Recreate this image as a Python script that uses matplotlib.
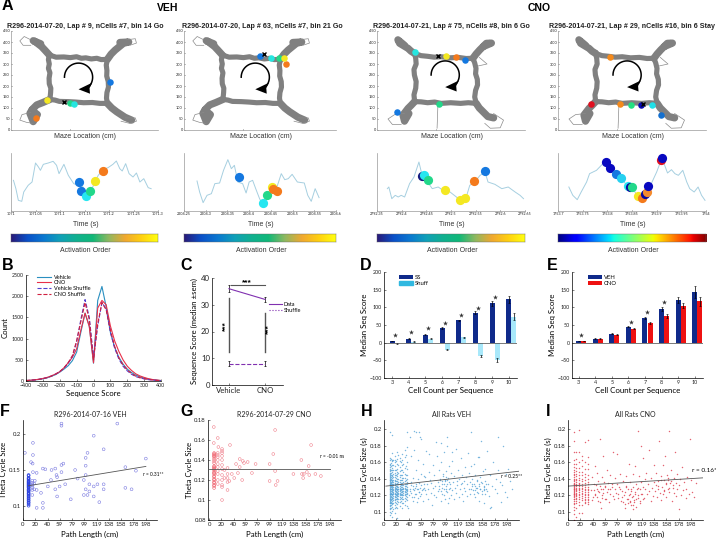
import matplotlib
matplotlib.use('Agg')
import matplotlib.pyplot as plt
import numpy as np
from matplotlib.colors import LinearSegmentedColormap
from matplotlib.lines import Line2D
from matplotlib.patches import Polygon

plt.rcParams['font.family'] = ['Lato', 'DejaVu Sans']
plt.rcParams['axes.linewidth'] = 0.5
W, H = 716, 541

# ---- panel A data ----
titles_a = ['R296-2014-07-20, Lap # 9, nCells #7, bin 14 Go', 'R296-2014-07-20, Lap # 63, nCells #7, bin 21 Go',
            'R296-2014-07-21, Lap # 75, nCells #8, bin 6 Go', 'R296-2014-07-21, Lap # 29, nCells #16, bin 6 Stay']

veh_ring = [(174, 341), (170, 320), (174, 300), (170, 280), (177, 260), (173, 235), (174, 210), (181, 190), (180, 170), (177, 139), (200, 136), (220, 130), (260, 129), (295, 127), (330, 124),
            (370, 125), (404, 121), (438, 121), (434, 145), (436, 170), (443, 195), (442, 220), (435, 245), (436, 270), (433, 295), (438, 321), (410, 320), (390, 326), (365, 323), (340, 328),
            (320, 326), (298, 333), (270, 329), (240, 332), (205, 331), (174, 341)]
veh_arms = [[(174, 341), (155, 362), (139, 379), (112, 400), (101, 406), (135, 392)],
            [(438, 321), (455, 345), (473, 363), (511, 394), (535, 400), (495, 398)],
            [(177, 139), (145, 125), (117, 114), (98, 95), (86, 76), (101, 38), (120, 70), (95, 90)],
            [(438, 121), (458, 100), (480, 83), (518, 58), (548, 45)]]
veh_thin = [[(90, 410), (60, 425), (40, 405), (55, 385), (90, 385)],
            [(525, 410), (565, 415), (570, 395), (540, 385)],
            [(90, 80), (50, 70), (40, 45), (70, 35), (100, 30)],
            [(520, 55), (565, 55), (570, 40), (540, 30), (500, 40)]]
cno_ring = [(171, 348), (176, 325), (178, 300), (168, 275), (170, 250), (178, 220), (176, 190), (168, 160), (171, 129), (200, 128), (230, 124), (262, 127), (292, 121), (335, 124), (380, 121), (415, 124), (451, 121),
            (444, 150), (448, 180), (457, 205), (456, 230), (448, 255), (450, 280), (444, 305), (436, 326), (405, 325), (370, 330), (330, 328), (292, 333), (260, 331), (230, 335), (200, 338), (171, 348)]
cno_arms = [[(171, 348), (155, 358), (141, 371), (103, 394), (95, 410), (125, 385)],
            [(436, 326), (450, 345), (467, 364), (497, 394), (520, 395), (485, 380)],
            [(171, 129), (155, 112), (141, 98), (118, 68), (125, 40), (145, 75)],
            [(451, 121), (465, 100), (482, 83), (504, 61), (530, 55)]]
cno_thin = [[(125, 75), (80, 70), (50, 50), (70, 25), (110, 25)],
            [(530, 75), (575, 45), (560, 10), (515, 8), (490, 30)],
            [(277, 121), (275, 60), (273, 8)],
            [(465, 330), (500, 300), (455, 290)]]

maze_dots = [[(112, 56, '#f47a1c'), (165, 135, '#f4e822'), (270, 121, '#22d88a'), (286, 120, '#26e6e0'), (450, 217, '#1478e0')],
             [(462, 300, '#f47a1c'), (345, 336, '#1478e0'), (396, 327, '#26e6e0'), (430, 326, '#22d88a'), (454, 327, '#f4e822')],
             [(171, 354, '#26e6e0'), (315, 335, '#f4e822'), (361, 332, '#f47a1c'), (398, 318, '#1478e0'), (282, 117, '#22d88a'), (92, 82, '#1478e0')],
             [(235, 330, '#f48a1c'), (148, 120, '#e01020'), (283, 118, '#f48a1c'), (330, 112, '#22e080'), (376, 112, '#0808b0'), (429, 114, '#20e0e8'), (467, 70, '#1470d0')]]
maze_cross = [(241, 129), (363, 345), (277, 338), (386, 118)]
arrow_centres = [(307, 240), (324, 240), (310, 250), (314, 250)]

tr_t = [[.005, .010, .015, .022, .026, .035, .043, .050, .056, .060, .066, .076, .086, .093, .098, .108, .117, .128, .138, .147,
         .154, .164, .171, .178, .188, .198, .208, .215, .222, .227, .234, .241, .249, .256, .263, .271, .280, .286],
        [.030, .036, .044, .053, .063, .071, .082, .091, .101, .109, .116, .124, .135, .143, .150, .158, .166, .174, .182, .190,
         .202, .214, .224, .232, .240, .249, .261, .277, .285, .293, .302, .311],
        [.021, .024, .030, .037, .043, .049, .056, .066, .075, .085, .089, .095, .105, .112, .124, .134, .148, .161, .171, .181,
         .188, .198, .209, .219, .225, .239, .253, .266, .280, .290, .297],
        [.022, .030, .039, .047, .058, .064, .078, .091, .102, .115, .129, .142, .152, .162, .176, .186, .200, .209, .215, .222,
         .230, .237, .244, .253, .261, .267, .276, .284, .291, .298]]
tr_v = [[92, 67, 32, 29, 57, 77, 87, 144, 132, 122, 140, 144, 149, 137, 112, 140, 107, 82, 77, 72, 52, 62, 87, 107, 124, 130, 140, 150,
         127, 120, 142, 112, 102, 114, 87, 97, 70, 67],
        [90, 57, 25, 47, 52, 82, 84, 122, 154, 127, 137, 87, 82, 54, 87, 92, 64, 37, 17, 37, 62, 72, 112, 94, 97, 110, 87, 84, 47, 29, 67, 40],
        [67, 72, 37, 47, 42, 47, 42, 82, 102, 147, 122, 92, 82, 67, 72, 62, 57, 42, 27, 42, 77, 87, 107, 117, 87, 80, 67, 72, 57, 47, 37],
        [72, 47, 34, 57, 87, 112, 122, 142, 127, 107, 97, 72, 67, 42, 37, 72, 117, 152, 142, 114, 124, 112, 107, 122, 87, 67, 57, 72, 47, 32]]
tr_dots = [[(.138, 87, '#1478e0'), (.142, 60, '#1478e0'), (.153, 45, '#26e6f0'), (.161, 60, '#22d88a'), (.171, 90, '#f4e822'), (.188, 120, '#f47a1c')],
           [(.127, 102, '#1478e0'), (.202, 72, '#f4e822'), (.182, 24, '#26e6f0'), (.190, 47, '#22d88a'), (.206, 67, '#f47a1c'), (.214, 59, '#f47a1c')],
           [(.092, 104, '#141a80'), (.095, 109, '#26e6f0'), (.103, 92, '#22d88a'), (.137, 64, '#f4e822'), (.169, 32, '#f4e822'), (.179, 39, '#f4e822'),
            (.196, 90, '#f47a1c'), (.218, 120, '#1478e0')],
           [(.097, 147, '#0808c0'), (.106, 129, '#0808c0'), (.118, 112, '#1478e0'), (.127, 100, '#26d0f0'), (.141, 75, '#26e6f0'), (.146, 72, '#0808a0'),
            (.151, 72, '#22d88a'), (.162, 45, '#f4e822'), (.171, 40, '#f47a1c'), (.177, 50, '#0808a0'), (.181, 57, '#f48a2c'), (.183, 75, '#0808c0'),
            (.209, 152, '#e01020'), (.211, 158, '#0808c0')]]
tr_labels = [['1071', '1071.05', '1071.1', '1071.15', '1071.2', '1071.25', '1071.3'],
             ['2204.25', '2204.3', '2204.35', '2204.4', '2204.45', '2204.5', '2204.55', '2204.6'],
             ['2792.35', '2792.4', '2792.45', '2792.5', '2792.55', '2792.6', '2792.65'],
             ['1753.7', '1753.75', '1753.8', '1753.85', '1753.9', '1753.95', '1754']]

# ---- panel B ----
b_x = [-400, -375, -350, -325, -300, -275, -250, -225, -200, -175, -150, -125, -100, -75, -50, -25, 0, 25, 50, 75, 100, 125, 150, 175, 200,
       225, 250, 275, 300, 325, 350, 375, 400]
b_veh = [10, 15, 25, 35, 50, 75, 110, 150, 210, 280, 360, 480, 680, 1150, 1600, 1300, 420, 1900, 2230, 1750, 1150, 800, 560, 400, 280, 200, 140, 100, 70, 45, 30, 18, 10]
b_cno = [12, 18, 28, 40, 60, 85, 120, 165, 220, 310, 430, 560, 760, 1200, 1600, 1280, 430, 1720, 1900, 1800, 1300, 950, 700, 500, 350, 250, 170, 120, 85, 55, 35, 22, 12]
b_vs = [10, 15, 25, 38, 55, 80, 115, 160, 220, 300, 420, 580, 920, 1450, 1920, 1500, 560, 1300, 1850, 1700, 1150, 780, 520, 350, 240, 160, 105, 75, 50, 32, 22, 14, 8]
b_cs = [10, 16, 26, 38, 55, 80, 115, 160, 220, 310, 430, 600, 950, 1400, 1850, 1450, 500, 1350, 1850, 1680, 1200, 820, 550, 380, 260, 180, 115, 80, 55, 35, 24, 15, 9]

# ---- panel C ----
c_data = [36, 32]
c_shuffle = [8, 8]
c_err = [1.2, 1.0]
c_serr = [0.8, 0.9]

# ---- panels D, E ----
cells = [3, 4, 5, 6, 7, 8, 9, 10]
d_ss = [5, 11, 23, 41, 63, 85, 111, 123]
d_ss_err = [1, 1, 1.5, 2, 2, 4, 7, 10]
d_sh = [-2, 3, 11, -20, 15, -37, -48, 73]
d_sh_err = [1, 1, 1.5, 1, 1.5, 3, 6, 10]
d_star_x = [3, 4, 5, 6, 7, 8, 9]
d_star_y = [21, 30, 41, 57, 79, 98, 129]
e_veh = [5, 11, 25, 45, 69, 95, 121, 142]
e_veh_err = [1, 1, 1, 2, 3, 6, 9, 17]
e_cno = [5, 11, 23, 40, 55, 75, 105, 117]
e_cno_err = [1, 1, 2, 2, 3, 5, 8, 13]
e_star_x = [3, 6, 7, 8]
e_star_y = [22, 58, 88, 114]

# ---- panel F ----
f_x = [3, 62, 62, 152, 114, 16, 16, 130, 104, 101, 198, 13, 15.5, 65, 62, 101, 165, 52, 32, 36, 84, 182, 46, 62, 16, 22, 54, 101, 55, 88, 98, 45, 19,
       68, 107, 120, 130, 114, 59, 40, 52, 101, 130, 165, 175, 107, 29, 98, 104, 114, 55, 77, 123, 32, 22, 32,
       15, 15, 15, 15, 15, 15, 15, 18, 18, 22]
f_y = [.174, .215, .212, .215, .198, .188, .171, .179, .174, .167, .166, .161, .159, .159, .157, .156, .154, .152, .152, .151, .150, .149, .15, .147,
       .147, .146, .143, .143, .14, .138, .136, .136, .135, .13, .13, .13, .13, .127, .127, .127, .123, .123, .123, .125, .123, .12, .118, .115, .115, .113,
       .113, .109, .105, .104, .097, .097, .115, .122, .125, .128, .13, .132, .135, .123, .131, .122]
f_col = [.100, .102, .104, .105, .107, .108, .110, .111, .113, .114, .116, .117, .118, .120, .121, .122, .123, .125, .126, .127, .128, .129,
         .130, .131, .132, .133, .134, .135, .137, .138, .139, .142, .143]

# ---- panel G ----
g_x = [7.5, 108, 14, 167, 34, 7.5, 15, 21, 105, 151, 50, 55, 63, 57, 76, 99, 163, 44, 50, 108, 138, 152, 155, 160, 164, 174, 183, 154, 70, 47, 37, 30, 41, 33,
       54, 99, 112, 109, 30, 21, 14, 21, 21, 14, 14, 14, 14, 14, 14, 14, 14, 14, 21, 21, 21, 21, 21, 21, 21, 21, 25, 25, 30, 30, 30]
g_y = [.173, .17, .162, .155, .155, .157, .153, .151, .146, .14, .141, .139, .138, .137, .136, .136, .134, .136, .133, .129, .126, .126, .126, .128, .125, .126,
       .124, .122, .127, .127, .126, .126, .122, .119, .12, .119, .119, .115, .11, .1, .116, .115, .113, .147, .145, .143, .14, .136, .133, .129, .126, .12,
       .149, .147, .144, .14, .135, .131, .125, .12, .13, .122, .132, .122, .118]
g_col = [.112, .114, .115, .117, .118, .120, .121, .123, .124, .126, .127, .128, .130, .131, .132, .133, .134, .137, .139, .141, .143, .144, .145, .146, .147]

# ---- panel H ----
h_col_x = [9, 11, 13, 15, 17, 19, 21, 23, 25, 27, 29, 31, 33, 35, 37]
h_cols = [
    [.096, .100, .103, .105, .107, .108, .110, .111, .112, .113, .114, .115, .116, .117, .118, .119, .120, .121, .122, .123, .124, .125, .126, .127, .128, .129, .130, .131, .132, .133,
     .134, .135, .136, .137, .138, .139, .140, .141, .142, .143, .144, .146, .147, .149, .150, .152, .154, .156, .158, .162, .165, .196],
    [.099, .104, .108, .110, .112, .114, .116, .118, .119, .121, .122, .123, .125, .127, .128, .130, .131, .133, .135, .136, .138, .140, .142, .145, .147, .151, .155, .159, .164],
    [.094, .101, .106, .109, .111, .113, .115, .117, .118, .120, .121, .122, .124, .125, .126, .128, .129, .130, .131, .133, .134, .136, .137, .139, .141, .143, .145, .148, .150, .153, .157, .161, .163, .171, .193],
    [.103, .110, .114, .117, .119, .121, .123, .124, .126, .128, .130, .132, .134, .136, .139, .142, .146, .150, .156, .163],
    [.098, .104, .108, .112, .114, .116, .118, .119, .121, .122, .123, .125, .126, .127, .129, .130, .132, .133, .135, .137, .139, .142, .144, .147, .150, .155, .160, .163, .168],
    [.106, .111, .115, .118, .120, .122, .124, .125, .127, .129, .131, .134, .137, .141, .145, .151, .161],
    [.093, .105, .109, .113, .115, .117, .119, .120, .122, .123, .124, .126, .127, .128, .130, .131, .133, .135, .137, .140, .143, .146, .148, .152, .158, .164, .172],
    [.112, .116, .119, .121, .123, .125, .127, .128, .130, .133, .136, .140, .147, .156, .169],
    [.107, .112, .116, .118, .120, .122, .123, .125, .126, .128, .129, .131, .133, .136, .139, .142, .145, .149, .154, .161, .165],
    [.113, .117, .120, .122, .124, .126, .128, .130, .132, .135, .139, .144, .151, .160],
    [.104, .110, .115, .118, .120, .122, .124, .125, .127, .128, .130, .132, .135, .138, .141, .145, .150, .156, .162, .170],
    [.111, .116, .120, .123, .125, .127, .129, .132, .136, .141, .148, .158],
    [.108, .113, .117, .120, .122, .124, .125, .127, .129, .131, .134, .137, .141, .146, .153, .166, .175],
    [.115, .119, .122, .124, .126, .128, .131, .134, .139, .145, .155, .169],
    [.107, .114, .118, .121, .123, .125, .126, .128, .130, .133, .136, .140, .145, .152, .160, .178, .196]]
h_x = [41, 43, 45, 47, 47, 49, 50, 51, 52, 53, 54, 55, 55, 56, 57, 58, 59, 60, 61, 62, 63, 65, 66, 67, 68, 69, 70, 71, 72, 74, 75, 76, 77, 78, 79, 80, 81, 82, 84, 85, 86, 87, 88, 89, 90, 91, 92, 93,
       94, 95, 96, 97, 98, 98, 99, 100, 100, 101, 102, 103, 104, 105, 106, 107, 108, 109, 110, 111, 112, 113, 114, 115, 116, 117, 118, 119, 120, 121, 122, 123, 124, 125, 126, 127,
       128, 129, 130, 131, 132, 133, 134, 135, 136, 137, 138, 139, 140, 141, 142, 143, 144, 145, 146, 147, 148, 149, 150, 151, 152, 153, 154, 155, 156, 157, 158, 159, 160, 161, 162, 163, 164,
       165, 166, 167, 168, 170, 172, 174, 176, 178, 180, 182, 184, 186, 188, 190, 192, 194, 196, 198, 200, 203, 206, 42, 48, 58, 64, 73, 83, 92, 101, 110, 125, 140, 152, 160, 171, 183, 52, 60, 44, 39]
h_y = [.125, .132, .118, .141, .127, .198, .122, .151, .131, .112, .128, .163, .140, .196, .124, .119, .146, .132, .126, .158, .113, .129, .142, .121, .173, .134, .116, .127, .148, .139, .123, .135, .108, .157, .129,
       .144, .120, .131, .118, .167, .136, .125, .150, .127, .139, .113, .183, .133, .122, .146, .128, .172, .137, .116, .131, .142, .125, .190, .139, .110, .128, .155, .134, .120, .147, .126, .161, .136, .115,
       .143, .129, .176, .123, .137, .132, .150, .118, .140, .127, .165, .133, .121, .145, .113, .137, .129, .154, .125, .142, .134, .119, .171, .128, .147, .136, .122, .197, .131, .140, .126, .158, .133, .118,
       .144, .129, .137, .124, .166, .131, .113, .142, .127, .186, .135, .122, .149, .130, .126, .152, .137, .128, .173, .125, .134, .119, .145, .106, .131, .160, .127, .140, .123, .190, .136, .112, .132, .180, .124, .146, .118,
       .152, .137, .127, .190, .175, .190, .143, .170, .184, .160, .180, .172, .135, .155, .166, .110, .105, .150, .197, .188, .167, .105]
h_x2 = [40, 42, 43, 44, 46, 46, 48, 49, 50, 51, 52, 53, 54, 56, 57, 58, 60, 62, 64, 66, 88, 90, 91, 93, 94, 95, 96, 97, 98, 99, 100, 101, 102, 103, 104, 105, 106,
        140, 142, 144, 146, 147, 149, 150, 151, 152, 154, 156, 158, 160, 161, 162, 164]
h_y2 = [.120, .128, .136, .123, .113, .131, .126, .118, .129, .134, .121, .127, .117, .124, .135, .129, .122, .128, .134, .126, .131, .140, .125, .137, .129, .143, .134, .120, .139, .128, .149, .133, .124, .141, .117, .136, .129,
        .128, .134, .122, .131, .126, .138, .129, .123, .133, .127, .136, .125, .131, .128, .122, .134]

# ---- panel I ----
i_col_x = [9, 13, 17, 22, 28, 32]
i_cols = [
    [.090, .097, .102, .106, .109, .111, .113, .115, .116, .118, .119, .120, .121, .122, .123, .124, .125, .126, .127, .128, .129, .130, .131, .132, .133, .134, .135, .137, .138, .140, .142, .144, .146,
     .148, .151, .154, .158, .162, .172, .185, .197],
    [.094, .104, .110, .113, .115, .117, .119, .120, .122, .123, .125, .126, .128, .129, .131, .132, .134, .136, .138, .140, .143, .146, .149, .153, .158, .164, .172],
    [.098, .108, .112, .115, .118, .120, .122, .124, .126, .127, .129, .131, .133, .135, .138, .141, .144, .148, .153, .160, .172, .199],
    [.098, .108, .114, .117, .119, .121, .123, .125, .127, .129, .131, .134, .137, .140, .144, .148, .155, .162, .167],
    [.110, .112, .114, .116, .118, .120, .122, .124, .126, .128, .130, .132, .135, .138, .142, .146, .152, .160, .184],
    [.109, .112, .114, .116, .118, .120, .122, .124, .126, .128, .130, .133, .136, .140, .145, .152, .158, .166, .187]]
i_x = [37, 38, 40, 41, 43, 44, 46, 47, 48, 49, 50, 51, 52, 53, 54, 55, 56, 57, 58, 59, 60, 62, 63, 65, 66, 67, 68, 70, 72, 73, 75, 76, 77, 78, 79, 80, 82, 83, 85, 86, 88, 90, 92, 93, 94, 95, 96, 97, 98, 99,
       100, 100, 101, 102, 103, 104, 105, 105, 106, 107, 108, 109, 110, 111, 112, 113, 114, 115, 116, 117, 118, 119, 120, 121, 122, 123, 124, 125, 127, 128, 130, 131, 133, 134, 135, 136, 138, 139,
       140, 141, 142, 143, 144, 145, 146, 148, 149, 150, 151, 152, 153, 154, 155, 156, 157, 158, 159, 160, 161, 162, 163, 164, 165, 167, 168, 170, 171, 172, 173, 174, 175, 176, 178, 179, 180, 182, 184, 185, 187, 189, 190, 192, 194, 196, 198, 200, 203, 206]
i_y = [.126, .142, .118, .133, .155, .122, .147, .128, .113, .137, .124, .188, .131, .105, .142, .120, .168, .128, .136, .116, .130, .150, .124, .135, .112, .144, .127, .133, .119, .172, .128, .141, .123, .170, .134,
       .117, .130, .146, .113, .125, .137, .120, .105, .131, .143, .116, .127, .110, .158, .122, .113, .136, .108, .125, .118, .146, .103, .130, .112, .122, .155, .116, .134, .127, .198, .120, .143, .113, .128, .180,
       .136, .122, .165, .130, .117, .140, .127, .147, .121, .134, .175, .125, .113, .141, .129, .119, .136, .157, .125, .147, .132, .118, .127, .137, .186, .123, .143, .114, .130, .156, .122, .138, .125, .167,
       .133, .118, .145, .128, .139, .198, .124, .135, .150, .113, .129, .141, .123, .172, .135, .119, .146, .128, .103, .132, .140, .120, .154, .126, .136, .117, .128, .142, .122, .188, .138, .124, .118, .135]
i_x2 = [38, 41, 43, 45, 47, 49, 51, 53, 55, 57, 59, 61, 64, 68, 71, 74, 81, 84, 87, 89, 91, 92, 94, 96, 98, 100, 102, 104, 105, 106, 108, 110, 112, 113, 115, 118, 120, 145, 150, 155, 158, 160, 162, 165, 168]
i_y2 = [.114, .126, .120, .132, .118, .125, .112, .128, .117, .123, .131, .115, .127, .121, .130, .116, .122, .127, .118, .112, .124, .109, .130, .116, .120, .112, .127, .108, .119, .114, .124, .106, .117, .129, .110, .122, .115,
        .131, .138, .126, .135, .141, .129, .137, .132]

path_ticks = [0, 20, 40, 59, 79, 99, 119, 138, 158, 178, 198]


def px_axes(left, top, right, bottom):
    return fig.add_axes([left / W, 1 - bottom / H, (right - left) / W, (bottom - top) / H])


def px_text(x, y, s, **kw):
    kw.setdefault('ha', 'center')
    kw.setdefault('va', 'center')
    fig.text(x / W, 1 - y / H, s, **kw)


def style(ax, size=4.2):
    ax.spines['top'].set_visible(False)
    ax.spines['right'].set_visible(False)
    ax.tick_params(direction='in', length=1.5, width=0.4, labelsize=size, pad=1.5, colors='#222222')
    ax.patch.set_alpha(0)


def draw_maze(ax, ring, arms, thin, dots, cross, centre):
    ax.plot(*zip(*ring), color='#808080', lw=3.7, solid_joinstyle='round')
    for arm in arms:
        ax.plot(*zip(*arm), color='#808080', lw=5.2, solid_capstyle='round', solid_joinstyle='round')
    for loop in thin:
        ax.plot(*zip(*loop), color='#8a8a8a', lw=0.5)
    for dx, dy, col in dots:
        ax.scatter(dx, dy, s=22, color=col, zorder=4, linewidths=0)
    ax.plot(*cross, marker='x', color='k', ms=3, mew=1, zorder=5)
    # rotation arrow
    th = np.linspace(np.pi, -np.pi / 5, 60)
    ax.plot(centre[0] + 64 * np.cos(th), centre[1] + 64 * np.sin(th), color='k', lw=1.1, zorder=3)
    head = [(0, -55), (62, -25), (50, -50), (52, -75)]
    ax.add_patch(Polygon([(centre[0] + a, centre[1] + b) for a, b in head], color='k', zorder=3, lw=0))


fig = plt.figure(figsize=(W / 100, H / 100), dpi=100)

arial = ['Liberation Sans', 'DejaVu Sans']
for x, y, s in [(2, 6, 'A'), (2, 265, 'B'), (180, 265, 'C'), (360, 265, 'D'), (547, 265, 'E'), (0, 412, 'F'), (180, 412, 'G'), (361, 412, 'H'), (546, 412, 'I')]:
    px_text(x, y, s, ha='left', fontsize=11.5, fontweight='bold', family=arial)
px_text(168, 8, 'VEH', fontsize=7.5, fontweight='bold', family=arial)
px_text(539, 8, 'CNO', fontsize=7.5, fontweight='bold', family=arial)

parula = LinearSegmentedColormap.from_list('par', ['#2a1a78', '#0a50c8', '#0a78d0', '#10a0b8', '#10b090', '#10b878', '#90b860', '#f0a830', '#ffd010', '#ffff10'])
maze_left = [11, 184, 377, 558]
maze_right = [158, 336, 525, 706]
title_x = [85, 262, 451, 632]
for i in range(4):
    l, r = maze_left[i], maze_right[i]
    ax = px_axes(l, 31, r, 130)
    style(ax, 3)
    ax.tick_params(labelsize=2.8, pad=0.8, length=1)
    if i < 2:
        draw_maze(ax, veh_ring, veh_arms, veh_thin, maze_dots[i], maze_cross[i], arrow_centres[i])
    else:
        draw_maze(ax, cno_ring, cno_arms, cno_thin, maze_dots[i], maze_cross[i], arrow_centres[i])
    ax.set_xlim(0, (r - l) * 4.545)
    ax.set_ylim(0, 450)
    ax.set_xticks([270])
    ax.set_xticklabels([''])
    ax.set_yticks(np.arange(0, 451, 50))
    for sp in ax.spines.values():
        sp.set_color('#999999')
    px_text(title_x[i], 26, titles_a[i], fontsize=5.1, fontweight='bold', family=arial, color='#222222')
    px_text((l + r) / 2 + 1, 137, 'Maze Location (cm)', fontsize=5, family=arial, color='#333333')

    ax = px_axes(l, 153, r, 211)
    style(ax, 2.7)
    ax.tick_params(labelsize=2.7, pad=1, length=1)
    ax.plot(tr_t[i], tr_v[i], color='#a6cfe0', lw=0.7)
    for t, v, col in tr_dots[i]:
        ax.scatter(t, v, s=44, color=col, zorder=3, linewidths=0)
    nt = len(tr_labels[i])
    ax.set_xlim(0, 0.05 * (nt - 1))
    ax.set_ylim(0, 174)
    ax.set_xticks([0.05 * k for k in range(nt)])
    ax.set_xticklabels(tr_labels[i])
    ax.set_yticks([])
    for sp in ax.spines.values():
        sp.set_color('#999999')
    px_text((l + r) / 2 + 1, 225, 'Time (s)', fontsize=5, family=arial, color='#333333')

    ax = px_axes(l, 234, r, 242)
    grad = np.linspace(0, 1, 256).reshape(1, -1)
    ax.imshow(grad, aspect='auto', cmap='jet' if i == 3 else parula)
    ax.set_xticks([])
    ax.set_yticks([])
    for sp in ax.spines.values():
        sp.set_linewidth(0.3)
        sp.set_color('#666666')
    px_text((l + r) / 2 + 1, 250, 'Activation Order', fontsize=5, family=arial, color='#333333')

# B
ax = px_axes(26, 275, 161, 381)
style(ax, 3.8)
ax.plot(b_x, b_veh, color='#2a8fc0', lw=0.8, label='Vehicle')
ax.plot(b_x, b_cno, color='#e8304a', lw=0.8, label='CNO')
ax.plot(b_x, b_vs, color='#5040d0', lw=0.8, ls='--', label='Vehicle Shuffle')
ax.plot(b_x, b_cs, color='#d02040', lw=0.8, ls='--', label='CNO Shuffle')
ax.set_xlim(-400, 400)
ax.set_ylim(0, 2500)
ax.set_xticks(np.arange(-400, 401, 100))
ax.set_yticks(np.arange(0, 2501, 500))
ax.set_xlabel('Sequence Score', fontsize=5.6, labelpad=1.5)
ax.set_ylabel('Count', fontsize=5.6, labelpad=2)
ax.legend(loc='upper left', bbox_to_anchor=(0.06, 1.03), frameon=False, fontsize=4, labelspacing=0.15, handlelength=2.6, handletextpad=0.4, borderpad=0)

# C
ax = px_axes(212, 278, 283, 385)
style(ax, 5.6)
ax.errorbar([1, 2], c_data, yerr=c_err, color='#8030b0', ecolor='k', elinewidth=0.5, capsize=0.8, capthick=0.5, lw=0.8)
ax.errorbar([1, 2], c_shuffle, yerr=c_serr, color='#8030b0', ecolor='k', elinewidth=0.5, capsize=0.8, capthick=0.5, lw=0.8, ls='--')
ax.plot([1.05, 2.0], [37.5, 37.5], color='#555555', lw=0.8)
ax.plot([1, 1], [12.5, 32.5], color='#555555', lw=1)
ax.plot([2, 2], [12.5, 27], color='#555555', lw=1)
ax.text(1.5, 37, '***', ha='center', va='bottom', fontsize=6, fontweight='bold', family=arial)
ax.text(0.9, 22, '***', ha='center', va='center', rotation=90, fontsize=6, fontweight='bold', family=arial)
ax.text(2.1, 21, '***', ha='center', va='center', rotation=90, fontsize=6, fontweight='bold', family=arial)
ax.set_xlim(0.53, 2.5)
ax.set_ylim(0, 40)
ax.set_xticks([1, 2])
ax.set_xticklabels(['Vehicle', 'CNO'])
ax.set_yticks([0, 10, 20, 30, 40])
ax.set_ylabel('Sequence Score (median \u00b1sem)', fontsize=5.6, labelpad=2)
handles = [Line2D([], [], color='#8030b0', lw=0.8), Line2D([], [], color='#8030b0', lw=0.8, ls=':')]
ax.legend(handles, ['Data', 'Shuffle'], loc='upper left', bbox_to_anchor=(0.76, 0.8), frameon=False, fontsize=4, labelspacing=0.2, handlelength=2.4, handletextpad=0.3, borderpad=0)

# D
xc = np.array(cells)
ax = px_axes(384, 272, 517, 378)
style(ax, 3.9)
ax.bar(xc, d_ss, 0.3, color='#0f2a8a', yerr=d_ss_err, error_kw=dict(lw=0.5, capsize=1, capthick=0.4), label='SS')
ax.bar(xc + 0.31, d_sh, 0.3, color='#a8e8fa', yerr=d_sh_err, error_kw=dict(lw=0.5, capsize=1, capthick=0.4), label='Shuff')
ax.axhline(0, color='#444444', lw=0.5)
ax.scatter(np.array(d_star_x) + 0.15, d_star_y, marker='*', s=14, color='#333333', linewidths=0)
ax.set_xlim(2.52, 10.5)
ax.set_ylim(-100, 200)
ax.set_xticks(cells)
ax.set_yticks(np.arange(-100, 201, 50))
ax.set_xlabel('Cell Count per Sequence', fontsize=5.7, labelpad=1.5)
ax.set_ylabel('Median Seq Score', fontsize=5.7, labelpad=1)
leg = ax.legend(loc='upper left', bbox_to_anchor=(0.09, 1.0), frameon=False, fontsize=4.2, labelspacing=0.1, handlelength=2.4, handleheight=0.8, handletextpad=0.3, borderpad=0)
leg.get_patches()[1].set_color('#30b8e0')

# E
ax = px_axes(572, 272, 703, 378)
style(ax, 3.9)
ax.bar(xc, e_veh, 0.3, color='#0f2a8a', yerr=e_veh_err, error_kw=dict(lw=0.5, capsize=1, capthick=0.4), label='VEH')
ax.bar(xc + 0.31, e_cno, 0.3, color='#ee1111', yerr=e_cno_err, error_kw=dict(lw=0.5, capsize=1, capthick=0.4), label='CNO')
ax.axhline(0, color='#444444', lw=0.5)
ax.scatter(np.array(e_star_x) + 0.15, e_star_y, marker='*', s=14, color='#333333', linewidths=0)
ax.set_xlim(2.6, 10.5)
ax.set_ylim(-100, 200)
ax.set_xticks(cells)
ax.set_yticks(np.arange(-100, 201, 50))
ax.set_xlabel('Cell Count per Sequence', fontsize=5.7, labelpad=1.5)
ax.set_ylabel('Median Seq Score', fontsize=5.7, labelpad=1)
ax.legend(loc='upper left', bbox_to_anchor=(0.1, 1.0), frameon=False, fontsize=4.2, labelspacing=0.1, handlelength=2.4, handleheight=0.8, handletextpad=0.3, borderpad=0)

# F
ax = px_axes(23, 420, 157, 520)
style(ax, 4.3)
ax.scatter(f_x, f_y, s=4, facecolors='none', edgecolors='#7a7ae0', linewidths=0.4)
ax.scatter([9] * len(f_col), f_col, s=4, facecolors='none', edgecolors='#2a40e0', linewidths=0.5)
ax.plot([9, 198], [.128, .155], color='#555555', lw=0.6)
ax.set_xlim(0, 216)
ax.set_ylim(0.08, 0.22)
ax.set_yticks([0.1, 0.15, 0.2])
ax.set_yticklabels(['0.1', '0.15', '0.2'])
ax.set_xticks(path_ticks)
ax.set_title('R296-2014-07-16 VEH', fontsize=5, pad=2, color='#222222')
ax.set_xlabel('Path Length (cm)', fontsize=5.6, labelpad=3)
ax.set_ylabel('Theta Cycle Size', fontsize=5.6, labelpad=1.5)
px_text(153, 475, 'r = 0.31**', fontsize=3.4)

# G
ax = px_axes(208, 420, 341, 520)
style(ax, 4.3)
ax.scatter(g_x, g_y, s=4, facecolors='none', edgecolors='#f0808c', linewidths=0.4)
ax.scatter([8] * len(g_col), g_col, s=4, facecolors='none', edgecolors='#f0606c', linewidths=0.4)
ax.plot([0, 198], [.131, .131], color='#555555', lw=0.6)
ax.set_xlim(-2, 216)
ax.set_ylim(0.08, 0.18)
ax.set_yticks([0.08, 0.1, 0.12, 0.14, 0.16, 0.18])
ax.set_yticklabels(['0.08', '0.1', '0.12', '0.14', '0.16', '0.18'])
ax.set_xticks(path_ticks)
ax.set_title('R296-2014-07-29 CNO', fontsize=5, pad=2, color='#222222')
ax.set_xlabel('Path Length (cm)', fontsize=5.6, labelpad=3)
ax.set_ylabel('Theta Cycle Size', fontsize=5.6, labelpad=0.5)
px_text(332, 456, 'r = -0.01 ns', fontsize=3.4)

# H
ax = px_axes(384, 420, 519, 520)
style(ax, 4.3)
for cx, col in zip(h_col_x, h_cols):
    ax.scatter([cx] * len(col), col, s=1.1, color='#5aa5d8', alpha=0.8, linewidths=0)
ax.scatter(h_x, h_y, s=1.1, color='#5aa5d8', alpha=0.8, linewidths=0)
ax.scatter(h_x2, h_y2, s=1.1, color='#5aa5d8', alpha=0.8, linewidths=0)
ax.plot([3, 217], [.131, .149], color='#555555', lw=0.6)
ax.set_xlim(0, 217)
ax.set_ylim(0.09, 0.211)
ax.set_yticks([0.1, 0.12, 0.14, 0.16, 0.18, 0.2])
ax.set_yticklabels(['0.1', '0.12', '0.14', '0.16', '0.18', '0.2'])
ax.set_xticks(path_ticks)
ax.set_title('All Rats VEH', fontsize=5, pad=2, color='#222222')
ax.set_xlabel('Path Length (cm)', fontsize=5.6, labelpad=3)
ax.set_ylabel('Theta Cycle Size (s)', fontsize=5.6, labelpad=1.5)
px_text(512, 477, 'r = 0.25**', fontsize=3.6)

# I
ax = px_axes(568, 420, 703, 520)
style(ax, 4.3)
for cx, col in zip(i_col_x, i_cols):
    ax.scatter([cx] * len(col), col, s=1.1, color='#e04858', alpha=0.85, linewidths=0)
ax.scatter(i_x, i_y, s=1.1, color='#e04858', alpha=0.85, linewidths=0)
ax.scatter(i_x2, i_y2, s=1.1, color='#e04858', alpha=0.85, linewidths=0)
ax.plot([0, 217], [.131, .141], color='#555555', lw=0.6)
ax.set_xlim(0, 217)
ax.set_ylim(0.09, 0.211)
ax.set_yticks([0.1, 0.12, 0.14, 0.16, 0.18, 0.2])
ax.set_yticklabels(['0.1', '0.12', '0.14', '0.16', '0.18', '0.2'])
ax.set_xticks(path_ticks)
ax.set_title('All Rats CNO', fontsize=5, pad=2, color='#222222')
ax.set_xlabel('Path Length (cm)', fontsize=5.6, labelpad=3)
ax.set_ylabel('Theta Cycle Size (s)', fontsize=5.6, labelpad=1.5)
px_text(704, 470, 'r = 0.16*', fontsize=4.6)

fig.savefig('out.png', dpi=100)
